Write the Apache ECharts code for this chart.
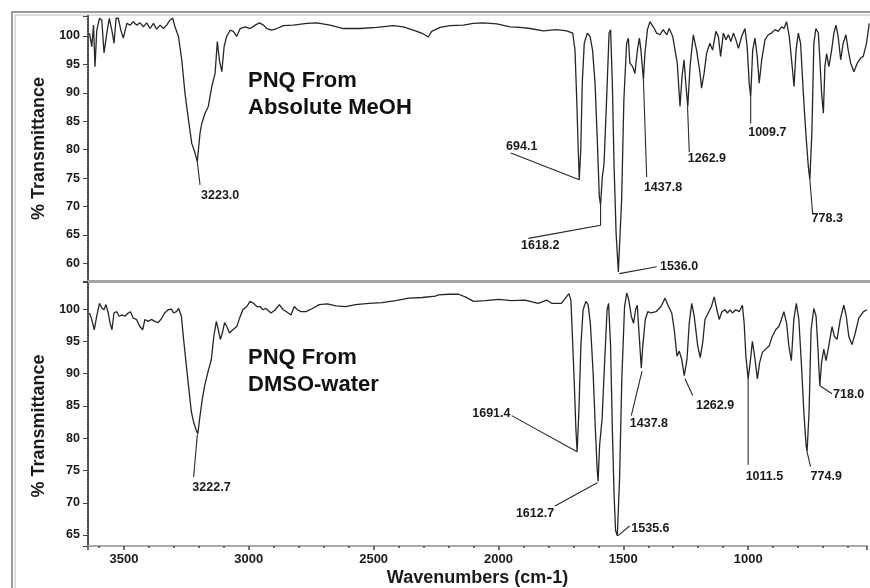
<!DOCTYPE html>
<html>
<head>
<meta charset="utf-8">
<title>PNQ IR spectra</title>
<script src="https://cdn.jsdelivr.net/npm/echarts@6/dist/echarts.min.js"></script>
<style>
  html, body { margin: 0; padding: 0; background: #fff; }
  #wrap { width: 870px; height: 588px; }
</style>
</head>
<body>
<div id="wrap"></div>
<script>
// 上图: PNQ From Absolute MeOH
var topWave = [3638,3629,3622,3616,3609,3598,3589,3580,3569,3559,3549,3540,3532,3523,3513,3503,3489,3476,3463,3450,
  3436,3423,3410,3396,3383,3370,3356,3343,3330,3317,3306,3297,3283,3270,3257,3243,3230,3217,3208,3197,
  3190,3177,3164,3150,3137,3128,3120,3110,3101,3091,3077,3064,3051,3037,3017,2997,2977,2960,2944,2931,
  2911,2891,2864,2825,2771,2731,2678,2625,2559,2492,2426,2386,2346,2313,2286,2273,2239,2200,2146,2107,
  2067,2013,1960,1920,1880,1827,1774,1734,1710,1701,1694,1688,1684,1678,1672,1664,1652,1641,1631,1621,
  1612,1604,1599,1592,1588,1585,1575,1565,1559,1552,1545,1537,1528,1524,1515,1506,1495,1488,1482,1471,
  1462,1452,1444,1438,1428,1422,1412,1402,1389,1375,1362,1349,1335,1325,1311,1302,1293,1282,1274,1266,
  1258,1251,1242,1229,1216,1202,1196,1186,1176,1163,1152,1139,1129,1120,1109,1099,1089,1079,1069,1059,
  1049,1036,1023,1014,1006,1000,992,983,974,966,956,943,930,917,903,890,877,867,857,846,
  837,827,819,810,801,790,780,770,764,756,748,740,730,724,717,710,704,697,688,677,
  668,660,651,641,631,620,611,601,588,575,561,551,538,527];
var topT = [100.5,98.1,101.9,94.6,101.0,103.1,102.8,97.0,100.5,103.1,101.0,98.7,103.1,103.1,101.0,99.6,102.2,101.9,102.5,101.9,
  102.3,101.6,102.3,101.3,102.2,101.2,101.9,101.3,101.9,102.8,103.1,101.6,99.9,95.8,89.9,85.2,81.1,79.4,77.9,82.9,
  84.6,86.4,87.6,91.1,93.4,99.0,95.8,93.7,98.1,99.9,101.0,100.8,99.9,101.3,101.6,101.3,101.9,102.3,101.9,101.3,
  101.0,101.3,101.8,101.9,102.2,102.3,101.9,101.3,101.3,101.5,101.8,101.6,101.0,100.5,99.8,100.8,101.5,101.8,101.9,102.2,
  102.3,102.1,101.6,101.5,101.3,100.9,101.1,100.9,100.5,97.5,88.7,79.9,74.7,79.9,91.7,98.7,100.5,99.9,97.5,91.7,
  81.7,71.7,70.3,75.2,76.5,77.6,88.7,100.5,101.1,91.7,77.0,65.3,58.5,58.2,71.1,88.7,98.7,99.6,95.2,94.6,
  93.4,97.5,99.6,97.5,92.3,96.9,101.1,102.5,101.6,100.5,100.2,101.1,100.2,101.3,99.9,97.5,95.2,87.6,92.8,95.8,
  91.1,87.6,94.6,100.2,97.5,93.4,90.8,93.4,96.9,98.7,97.5,100.8,99.9,96.4,100.5,99.3,100.2,99.0,100.5,99.3,
  97.8,99.9,101.3,98.1,91.7,89.3,97.5,99.6,96.4,91.7,95.8,99.3,100.2,100.5,101.1,100.8,101.6,101.3,102.5,99.9,
  95.8,91.1,97.5,100.5,98.7,89.9,82.9,77.0,74.7,82.9,98.7,101.3,100.5,95.8,89.9,86.4,94.6,96.9,94.6,97.5,
  100.5,101.9,99.9,95.8,98.7,100.2,97.5,95.2,93.7,95.2,96.1,96.4,98.7,102.2];

// 下图: PNQ From DMSO-water
var botWave = [3638,3629,3619,3609,3598,3589,3580,3572,3563,3556,3548,3540,3529,3519,3509,3496,3483,3474,3463,3450,
  3436,3425,3416,3403,3390,3376,3363,3350,3337,3323,3310,3301,3290,3281,3270,3261,3250,3240,3230,3221,
  3210,3204,3197,3186,3177,3164,3150,3140,3130,3122,3114,3106,3097,3088,3077,3064,3048,3037,3024,3008,
  2995,2981,2968,2955,2944,2931,2911,2894,2878,2862,2849,2831,2818,2805,2791,2771,2745,2718,2685,2652,
  2612,2572,2519,2466,2412,2359,2306,2253,2240,2200,2160,2133,2100,2053,2000,1947,1894,1841,1807,1787,
  1748,1728,1718,1710,1705,1697,1690,1685,1678,1670,1661,1650,1641,1632,1621,1612,1605,1601,1595,1585,
  1575,1565,1559,1551,1544,1537,1531,1524,1515,1506,1495,1486,1478,1468,1459,1451,1444,1438,1428,1422,
  1412,1402,1389,1369,1349,1333,1319,1306,1296,1285,1276,1266,1256,1245,1236,1226,1216,1202,1192,1182,
  1173,1160,1147,1136,1125,1116,1105,1093,1083,1072,1063,1050,1036,1023,1016,1009,1000,992,983,974,
  963,954,943,930,916,903,890,877,867,857,846,837,827,817,807,797,787,777,768,764,
  756,748,737,728,721,713,706,697,688,677,664,655,644,631,617,607,597,584,571,557,538,524];
var botT = [99.4,98.4,96.8,98.9,100.9,100.2,99.9,100.7,99.4,97.9,96.8,99.4,99.6,98.9,99.1,98.9,99.4,99.6,98.6,98.4,
  97.3,96.8,98.4,98.1,98.4,98.1,97.9,98.5,99.4,99.9,100.0,99.4,99.6,100.1,98.9,95.3,91.2,87.6,84.1,82.5,
  81.2,80.7,83.0,86.1,88.1,90.2,92.2,95.8,98.1,96.8,95.3,96.3,97.9,97.3,96.3,96.8,97.3,98.6,99.9,100.4,
  101.2,100.9,100.4,100.4,99.9,100.1,99.4,99.9,100.7,99.9,99.6,99.1,100.4,99.9,99.6,99.6,100.1,100.7,100.8,100.5,
  100.4,100.7,100.9,101.0,101.3,101.7,101.8,102.0,102.2,102.3,102.3,101.9,101.2,101.3,101.5,101.3,101.4,100.9,101.4,100.9,
  100.9,101.9,102.4,101.4,96.8,89.2,81.5,77.9,84.1,94.3,99.9,101.2,100.7,97.8,90.2,81.5,75.4,73.3,78.9,83.0,
  91.7,99.9,100.9,94.3,81.5,71.3,65.7,64.9,73.8,89.2,100.4,102.5,101.4,98.9,97.8,99.9,100.6,96.8,90.9,94.3,
  98.4,99.6,99.4,99.6,100.4,101.7,100.4,99.4,96.8,92.7,93.5,92.2,89.7,92.2,97.8,100.9,98.9,94.3,92.5,94.8,
  98.4,99.4,100.4,101.9,99.9,98.4,99.6,99.9,99.4,99.9,99.4,99.9,99.6,100.6,97.8,92.7,89.2,91.7,95.0,92.7,
  89.2,91.7,93.3,93.8,94.3,95.8,96.8,97.3,98.4,99.6,97.8,94.3,92.0,98.4,100.9,98.4,91.7,84.1,78.9,77.9,
  84.1,96.8,100.1,98.9,94.3,88.1,91.7,93.8,92.0,94.3,97.3,95.8,95.3,98.4,100.6,98.9,95.8,94.5,96.3,98.6,99.6,99.9];

// 峰值标注: 文字, 文字位置, 引线
var topPeakNames = ['3223.0','694.1','1618.2','1536.0','1437.8','1262.9','1009.7','778.3'];
var topLabelAt = [[3193,71.9],[1976,80.6],[1916,63.2],[1362,59.5],[1426,73.3],[1251,78.4],[1010,83.0],[757,67.9]];
var topLeaders = [
  [[3208,77.9],[3197,73.8]],
  [[1684,74.7],[1957,79.4]],
  [[1599,70.3],[1599,66.7],[1887,64.4]],
  [[1524,58.2],[1375,59.4]],
  [[1428,92.3],[1415,75.2]],
  [[1252,87.6],[1245,79.6]],
  [[1000,89.3],[1000,84.6]],
  [[764,74.7],[753,68.8]]
];
var botPeakNames = ['3222.7','1691.4','1612.7','1535.6','1437.8','1262.9','1011.5','774.9','718.0'];
var botLabelAt = [[3226,72.4],[1952,83.8],[1777,68.4],[1468,66.0],[1474,82.3],[1209,85.1],[1010,74.1],[750,74.0],[660,86.8]];
var botLeaders = [
  [[3206,80.6],[3221,74.0]],
  [[1685,77.9],[1947,83.5]],
  [[1604,73.1],[1774,69.5]],
  [[1521,64.9],[1475,66.4]],
  [[1425,90.4],[1468,83.5]],
  [[1253,89.2],[1222,86.6]],
  [[1000,89.2],[1000,75.9]],
  [[764,77.9],[750,75.6]],
  [[711,88.1],[664,86.9]]
];

var FONT = 'Liberation Sans, Arial, sans-serif';

function zip(xs, ys) {
  return xs.map(function (x, i) { return [x, ys[i]]; });
}
function labelData(names, at, rightAligned) {
  return names.map(function (n, i) {
    return {
      name: n,
      value: at[i],
      label: { position: rightAligned.indexOf(n) >= 0 ? 'left' : 'right' }
    };
  });
}
function leaderData(list) {
  return list.map(function (c) { return { coords: c }; });
}

var myChart = echarts.init(document.getElementById('wrap'), null, { renderer: 'canvas' });

function yAxisFor(idx, min, max, split, nameShift) {
  return {
    type: 'value', gridIndex: idx, min: min, max: max, splitNumber: split,
    name: '% Transmittance', nameLocation: 'middle', nameGap: 36, nameRotate: 90,
    nameTextStyle: { fontFamily: FONT, fontSize: 18, fontWeight: 'bold', color: '#1a1a1a', padding: [0, nameShift, 0, 0] },
    axisLine: { show: true, lineStyle: { color: '#444', width: 2, type: [1.5, 1.5] } },
    axisTick: { show: true, length: 5, lineStyle: { color: '#444' } },
    splitLine: { show: false },
    axisLabel: {
      fontFamily: FONT, fontSize: 12.5, fontWeight: 'bold', color: '#1a1a1a', margin: 8,
      formatter: function (v) { return (Math.abs(v % 5) < 1e-6) ? String(v) : ''; }
    }
  };
}

var labelStyle = {
  show: true, formatter: '{b}', distance: 0,
  fontFamily: FONT, fontSize: 12.5, fontWeight: 'bold', color: '#1a1a1a'
};

var option = {
  animation: false,
  backgroundColor: '#fff',
  title: [
    { text: 'PNQ From\nAbsolute MeOH', left: 248, top: 67, padding: 0,
      textStyle: { fontFamily: FONT, fontSize: 22, fontWeight: 'bold', color: '#111', lineHeight: 27 } },
    { text: 'PNQ From\nDMSO-water', left: 248, top: 344, padding: 0,
      textStyle: { fontFamily: FONT, fontSize: 22, fontWeight: 'bold', color: '#111', lineHeight: 27 } }
  ],
  graphic: [
    { type: 'rect', z: -10, shape: { x: 12, y: 12, width: 900, height: 620 },
      style: { fill: 'none', stroke: '#7a7a7a', lineWidth: 1.5 } },
    { type: 'rect', z: -10, shape: { x: 15, y: 15, width: 900, height: 620 },
      style: { fill: 'none', stroke: '#d2d2d2', lineWidth: 1.5 } }
  ],
  grid: [
    { left: 88, right: 0, top: 16, height: 265 },
    { left: 88, right: 0, top: 282, height: 267 }
  ],
  xAxis: [
    {
      type: 'value', gridIndex: 0, inverse: true, min: 524, max: 3644, splitNumber: 6,
      axisLine: { show: true, lineStyle: { color: '#a4a4a4', width: 3 } },
      axisTick: { show: false }, axisLabel: { show: false }, splitLine: { show: false }
    },
    {
      type: 'value', gridIndex: 1, inverse: true, min: 524, max: 3644, splitNumber: 6,
      name: 'Wavenumbers (cm-1)', nameLocation: 'middle', nameGap: 23,
      nameTextStyle: { fontFamily: FONT, fontSize: 18, fontWeight: 'bold', color: '#1a1a1a' },
      axisLine: { show: true, lineStyle: { color: '#a8a8a8', width: 2 } },
      axisTick: { show: true, length: 4, lineStyle: { color: '#444', width: 1.5 } },
      minorTick: { show: true, splitNumber: 5, length: 2, lineStyle: { color: '#444', width: 1.5 } },
      splitLine: { show: false },
      axisLabel: {
        fontFamily: FONT, fontSize: 13, fontWeight: 'bold', color: '#1a1a1a', margin: 7,
        formatter: function (v) { return (v % 500 === 0) ? String(v) : ''; }
      }
    }
  ],
  yAxis: [
    yAxisFor(0, 56.9, 103.5, 9, 0),
    yAxisFor(1, 63.3, 104.2, 8, 24)
  ],
  series: [
    {
      type: 'line', xAxisIndex: 0, yAxisIndex: 0, data: zip(topWave, topT),
      showSymbol: false, lineStyle: { color: '#262626', width: 1.3 }
    },
    {
      type: 'line', xAxisIndex: 1, yAxisIndex: 1, data: zip(botWave, botT),
      showSymbol: false, lineStyle: { color: '#262626', width: 1.3 }
    },
    {
      type: 'lines', coordinateSystem: 'cartesian2d', xAxisIndex: 0, yAxisIndex: 0, polyline: true,
      data: leaderData(topLeaders), lineStyle: { color: '#2a2a2a', width: 1.1, opacity: 1 }
    },
    {
      type: 'lines', coordinateSystem: 'cartesian2d', xAxisIndex: 1, yAxisIndex: 1, polyline: true,
      data: leaderData(botLeaders), lineStyle: { color: '#2a2a2a', width: 1.1, opacity: 1 }
    },
    {
      type: 'scatter', xAxisIndex: 0, yAxisIndex: 0, symbolSize: 0, silent: true,
      itemStyle: { opacity: 1 },
      data: labelData(topPeakNames, topLabelAt, []),
      label: labelStyle
    },
    {
      type: 'scatter', xAxisIndex: 1, yAxisIndex: 1, symbolSize: 0, silent: true,
      itemStyle: { opacity: 1 },
      data: labelData(botPeakNames, botLabelAt, ['1691.4', '1612.7']),
      label: labelStyle
    }
  ]
};

myChart.setOption(option);
</script>
</body>
</html>
